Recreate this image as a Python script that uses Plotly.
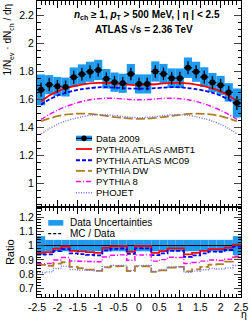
import plotly.graph_objects as go

# ---------------- data ----------------
eta = [-2.4, -2.2, -2.0, -1.8, -1.6, -1.4, -1.2, -1.0, -0.8, -0.6, -0.4, -0.2, 0.0,
       0.2, 0.4, 0.6, 0.8, 1.0, 1.2, 1.4, 1.6, 1.8, 2.0, 2.2, 2.4]
bin_edges = [-2.5, -2.3, -2.1, -1.9, -1.7, -1.5, -1.3, -1.1, -0.9, -0.7, -0.5, -0.3, -0.1,
             0.1, 0.3, 0.5, 0.7, 0.9, 1.1, 1.3, 1.5, 1.7, 1.9, 2.1, 2.3, 2.5]

data_2009 = [1.666, 1.703, 1.691, 1.686, 1.756, 1.777, 1.795, 1.808, 1.745, 1.721, 1.713, 1.779, 1.708,
             1.708, 1.797, 1.780, 1.749, 1.749, 1.824, 1.795, 1.757, 1.718, 1.698, 1.648, 1.572]
data_stat = [0.050, 0.047, 0.046, 0.046, 0.046, 0.046, 0.046, 0.046, 0.045, 0.045, 0.045, 0.045, 0.045,
             0.045, 0.045, 0.045, 0.045, 0.046, 0.046, 0.046, 0.046, 0.046, 0.046, 0.047, 0.050]
data_sys_rel = [0.066, 0.040, 0.040, 0.040, 0.040, 0.040, 0.040, 0.040, 0.040, 0.040, 0.040, 0.040, 0.040,
                0.040, 0.040, 0.040, 0.040, 0.040, 0.040, 0.040, 0.040, 0.040, 0.040, 0.040, 0.066]

ambt1 = [1.583, 1.625, 1.655, 1.675, 1.692, 1.704, 1.712, 1.716, 1.716, 1.712, 1.706, 1.702, 1.700,
         1.702, 1.706, 1.712, 1.716, 1.716, 1.712, 1.704, 1.692, 1.675, 1.655, 1.625, 1.583]
mc09 = [1.560, 1.597, 1.625, 1.645, 1.660, 1.671, 1.679, 1.684, 1.685, 1.682, 1.678, 1.675, 1.674,
        1.675, 1.678, 1.682, 1.685, 1.684, 1.679, 1.671, 1.660, 1.645, 1.625, 1.597, 1.560]
dw = [1.442, 1.462, 1.478, 1.489, 1.495, 1.497, 1.494, 1.488, 1.480, 1.472, 1.466, 1.461, 1.459,
      1.461, 1.466, 1.472, 1.480, 1.488, 1.494, 1.497, 1.495, 1.489, 1.478, 1.462, 1.442]
pythia8 = [1.455, 1.490, 1.520, 1.545, 1.566, 1.583, 1.595, 1.603, 1.606, 1.605, 1.601, 1.597, 1.595,
           1.597, 1.601, 1.605, 1.606, 1.603, 1.595, 1.583, 1.566, 1.545, 1.520, 1.490, 1.455]
phojet = [1.352, 1.390, 1.420, 1.443, 1.460, 1.474, 1.484, 1.489, 1.488, 1.483, 1.476, 1.470, 1.467,
          1.470, 1.476, 1.483, 1.488, 1.489, 1.484, 1.474, 1.460, 1.443, 1.420, 1.390, 1.352]

x_tickvals = [-2.5, -2.0, -1.5, -1.0, -0.5, 0.0, 0.5, 1.0, 1.5, 2.0, 2.5]
x_ticktext = ["-2.5", "-2", "-1.5", "-1", "-0.5", "0", "0.5", "1", "1.5", "2", "2.5"]
top_y_tickvals = [1.0, 1.2, 1.4, 1.6, 1.8, 2.0, 2.2]
top_y_ticktext = ["1", "1.2", "1.4", "1.6", "1.8", "2", "2.2"]
ratio_y_tickvals = [0.7, 0.8, 0.9, 1.0, 1.1, 1.2]
ratio_y_ticktext = ["0.7", "0.8", "0.9", "1", "1.1", "1.2"]

# ---------------- styles ----------------
BAND = "#1e9af0"
FONT = "Liberation Sans, Arial, Helvetica, sans-serif"
models = [
    ("PYTHIA ATLAS AMBT1", ambt1, "#ff0000", "solid", 1.8),
    ("PYTHIA ATLAS MC09", mc09, "#0000ff", "4px,2px", 1.8),
    ("PYTHIA DW", dw, "#b07d22", "9px,3px", 1.8),
    ("PYTHIA 8", pythia8, "#ff00ff", "5px,2px,1px,2px", 1.4),
    ("PHOJET", phojet, "#6f6fff", "1px,1.5px", 1.4),
]

fig = go.Figure()

# --- top panel: systematic boxes
fig.add_trace(go.Bar(
    x=eta,
    y=[2 * d * e for d, e in zip(data_2009, data_sys_rel)],
    base=[d * (1 - e) for d, e in zip(data_2009, data_sys_rel)],
    width=0.2, marker=dict(color=BAND, line=dict(width=0)),
    xaxis="x", yaxis="y", hoverinfo="skip"))

# --- top panel: MC curves
for name, vals, col, dash, lw in models:
    fig.add_trace(go.Scatter(
        x=eta, y=vals, mode="lines", name=name,
        line=dict(color=col, dash=dash, width=lw, shape="spline", smoothing=0.8),
        xaxis="x", yaxis="y"))

# --- top panel: data points
fig.add_trace(go.Scatter(
    x=eta, y=data_2009, mode="markers", name="Data 2009",
    marker=dict(color="black", size=6),
    error_y=dict(type="data", array=data_stat, color="black", thickness=1.3, width=0),
    error_x=dict(type="constant", value=0.1, color="black", thickness=1.3, width=0),
    xaxis="x", yaxis="y"))

# --- ratio panel: data uncertainty band
fig.add_trace(go.Bar(
    x=eta,
    y=[2 * e for e in data_sys_rel],
    base=[1 - e for e in data_sys_rel],
    width=0.2, marker=dict(color=BAND, line=dict(width=0)),
    xaxis="x2", yaxis="y2", hoverinfo="skip"))
fig.add_trace(go.Scatter(
    x=[bin_edges[0], bin_edges[-1]], y=[1, 1], mode="lines",
    line=dict(color="black", width=1), xaxis="x2", yaxis="y2"))

# --- ratio panel: MC / Data steps
for name, vals, col, dash, lw in models:
    r = [m / d for m, d in zip(vals, data_2009)]
    fig.add_trace(go.Scatter(
        x=bin_edges, y=r + [r[-1]], mode="lines",
        line=dict(color=col, dash=dash, width=lw, shape="hv"),
        xaxis="x2", yaxis="y2"))

# ---------------- axes ----------------
common_x = dict(range=[-2.5, 2.5], showgrid=False, zeroline=False, showline=True,
                linecolor="black", linewidth=1, mirror="ticks", ticks="inside",
                ticklen=7, tickcolor="black", tickvals=x_tickvals, ticktext=x_ticktext,
                minor=dict(ticks="inside", ticklen=3.5, dtick=0.1, tick0=-2.5, tickcolor="black"))

fig.update_layout(
    width=249, height=323,
    margin=dict(l=37, r=8, t=1, b=26),
    paper_bgcolor="white", plot_bgcolor="white",
    showlegend=False,
    barmode="overlay",
    font=dict(family=FONT, size=10, color="black"),
    xaxis=dict(domain=[0, 1], anchor="y", showticklabels=False, **common_x),
    xaxis2=dict(domain=[0, 1], anchor="y2", showticklabels=True,
                tickfont=dict(size=10.5), **common_x),
    yaxis=dict(domain=[0.304, 1], anchor="x", range=[0.83, 2.3],
               showgrid=False, zeroline=False, showline=True, linecolor="black",
               linewidth=1, mirror="ticks", ticks="inside", ticklen=7,
               tickvals=top_y_tickvals, ticktext=top_y_ticktext, tickfont=dict(size=10.5),
               minor=dict(ticks="inside", ticklen=3.5, dtick=0.05, tick0=0, tickcolor="black")),
    yaxis2=dict(domain=[0, 0.304], anchor="x2", range=[0.64, 1.27],
                showgrid=False, zeroline=False, showline=True, linecolor="black",
                linewidth=1, mirror="ticks", ticks="inside", ticklen=7,
                tickvals=ratio_y_tickvals, ticktext=ratio_y_ticktext, tickfont=dict(size=10.5),
                minor=dict(ticks="inside", ticklen=3.5, dtick=0.02, tick0=0, tickcolor="black")),
)

# ---------------- texts ----------------
ann = []
ann.append(dict(text="<b><i>n</i><sub>ch</sub> ≥ 1, <i>p</i><sub>T</sub> > 500 MeV, | η | < 2.5</b>",
                x=0.539, y=0.953, xref="paper", yref="paper", xanchor="center", yanchor="middle",
                showarrow=False, font=dict(size=10)))
ann.append(dict(text="<b>ATLAS √s = 2.36 TeV</b>",
                x=0.525, y=0.905, xref="paper", yref="paper", xanchor="center", yanchor="middle",
                showarrow=False, font=dict(size=10)))
ann.append(dict(text="1/N<sub>ev</sub> · dN<sub>ch</sub> / dη", textangle=-90,
                x=-0.14, y=1.0, xref="paper", yref="paper", xanchor="center", yanchor="top",
                showarrow=False, font=dict(size=10)))
ann.append(dict(text="Ratio", textangle=-90,
                x=-0.132, y=0.152, xref="paper", yref="paper", xanchor="center", yanchor="middle",
                showarrow=False, font=dict(size=11)))
ann.append(dict(text="η", x=1.014, y=-0.058, xref="paper", yref="paper",
                xanchor="center", yanchor="middle", showarrow=False, font=dict(size=10.5)))

shapes = []
# top legend
leg_labels = ["Data 2009"] + [m[0] for m in models]
leg_y = [0.536, 0.500, 0.462, 0.426, 0.390, 0.352]
lx0, lx1, ltx = 0.191, 0.270, 0.279
for lab, yy in zip(leg_labels, leg_y):
    ann.append(dict(text=lab, x=ltx, y=yy, xref="paper", yref="paper", xanchor="left",
                    yanchor="middle", showarrow=False, font=dict(size=9.5)))
shapes.append(dict(type="rect", xref="paper", yref="paper", x0=lx0, x1=lx1,
                   y0=leg_y[0] - 0.009, y1=leg_y[0] + 0.009, fillcolor=BAND, line=dict(width=0)))
shapes.append(dict(type="line", xref="paper", yref="paper", x0=lx0, x1=lx1,
                   y0=leg_y[0], y1=leg_y[0], line=dict(color="black", width=1.3)))
cx = (lx0 + lx1) / 2
shapes.append(dict(type="circle", xref="paper", yref="paper", x0=cx - 0.0135, x1=cx + 0.0135,
                   y0=leg_y[0] - 0.0095, y1=leg_y[0] + 0.0095, fillcolor="black",
                   line=dict(color="black", width=0)))
for (name, vals, col, dash, lw), yy in zip(models, leg_y[1:]):
    shapes.append(dict(type="line", xref="paper", yref="paper", x0=lx0, x1=lx1, y0=yy, y1=yy,
                       line=dict(color=col, dash=dash, width=lw)))

# ratio legend
shapes.append(dict(type="rect", xref="paper", yref="paper", x0=0.055, x1=0.129,
                   y0=0.241, y1=0.260, fillcolor=BAND, line=dict(width=0)))
shapes.append(dict(type="line", xref="paper", yref="paper", x0=0.055, x1=0.129,
                   y0=0.214, y1=0.214, line=dict(color="black", dash="3px,2px", width=1.4)))
ann.append(dict(text="Data Uncertainties", x=0.153, y=0.251, xref="paper", yref="paper",
                xanchor="left", yanchor="middle", showarrow=False, font=dict(size=10)))
ann.append(dict(text="MC / Data", x=0.153, y=0.216, xref="paper", yref="paper",
                xanchor="left", yanchor="middle", showarrow=False, font=dict(size=10)))

fig.update_layout(annotations=ann, shapes=shapes)

fig.write_html("out.html", config={"displayModeBar": False},
               post_script="document.body.style.margin='0';")
